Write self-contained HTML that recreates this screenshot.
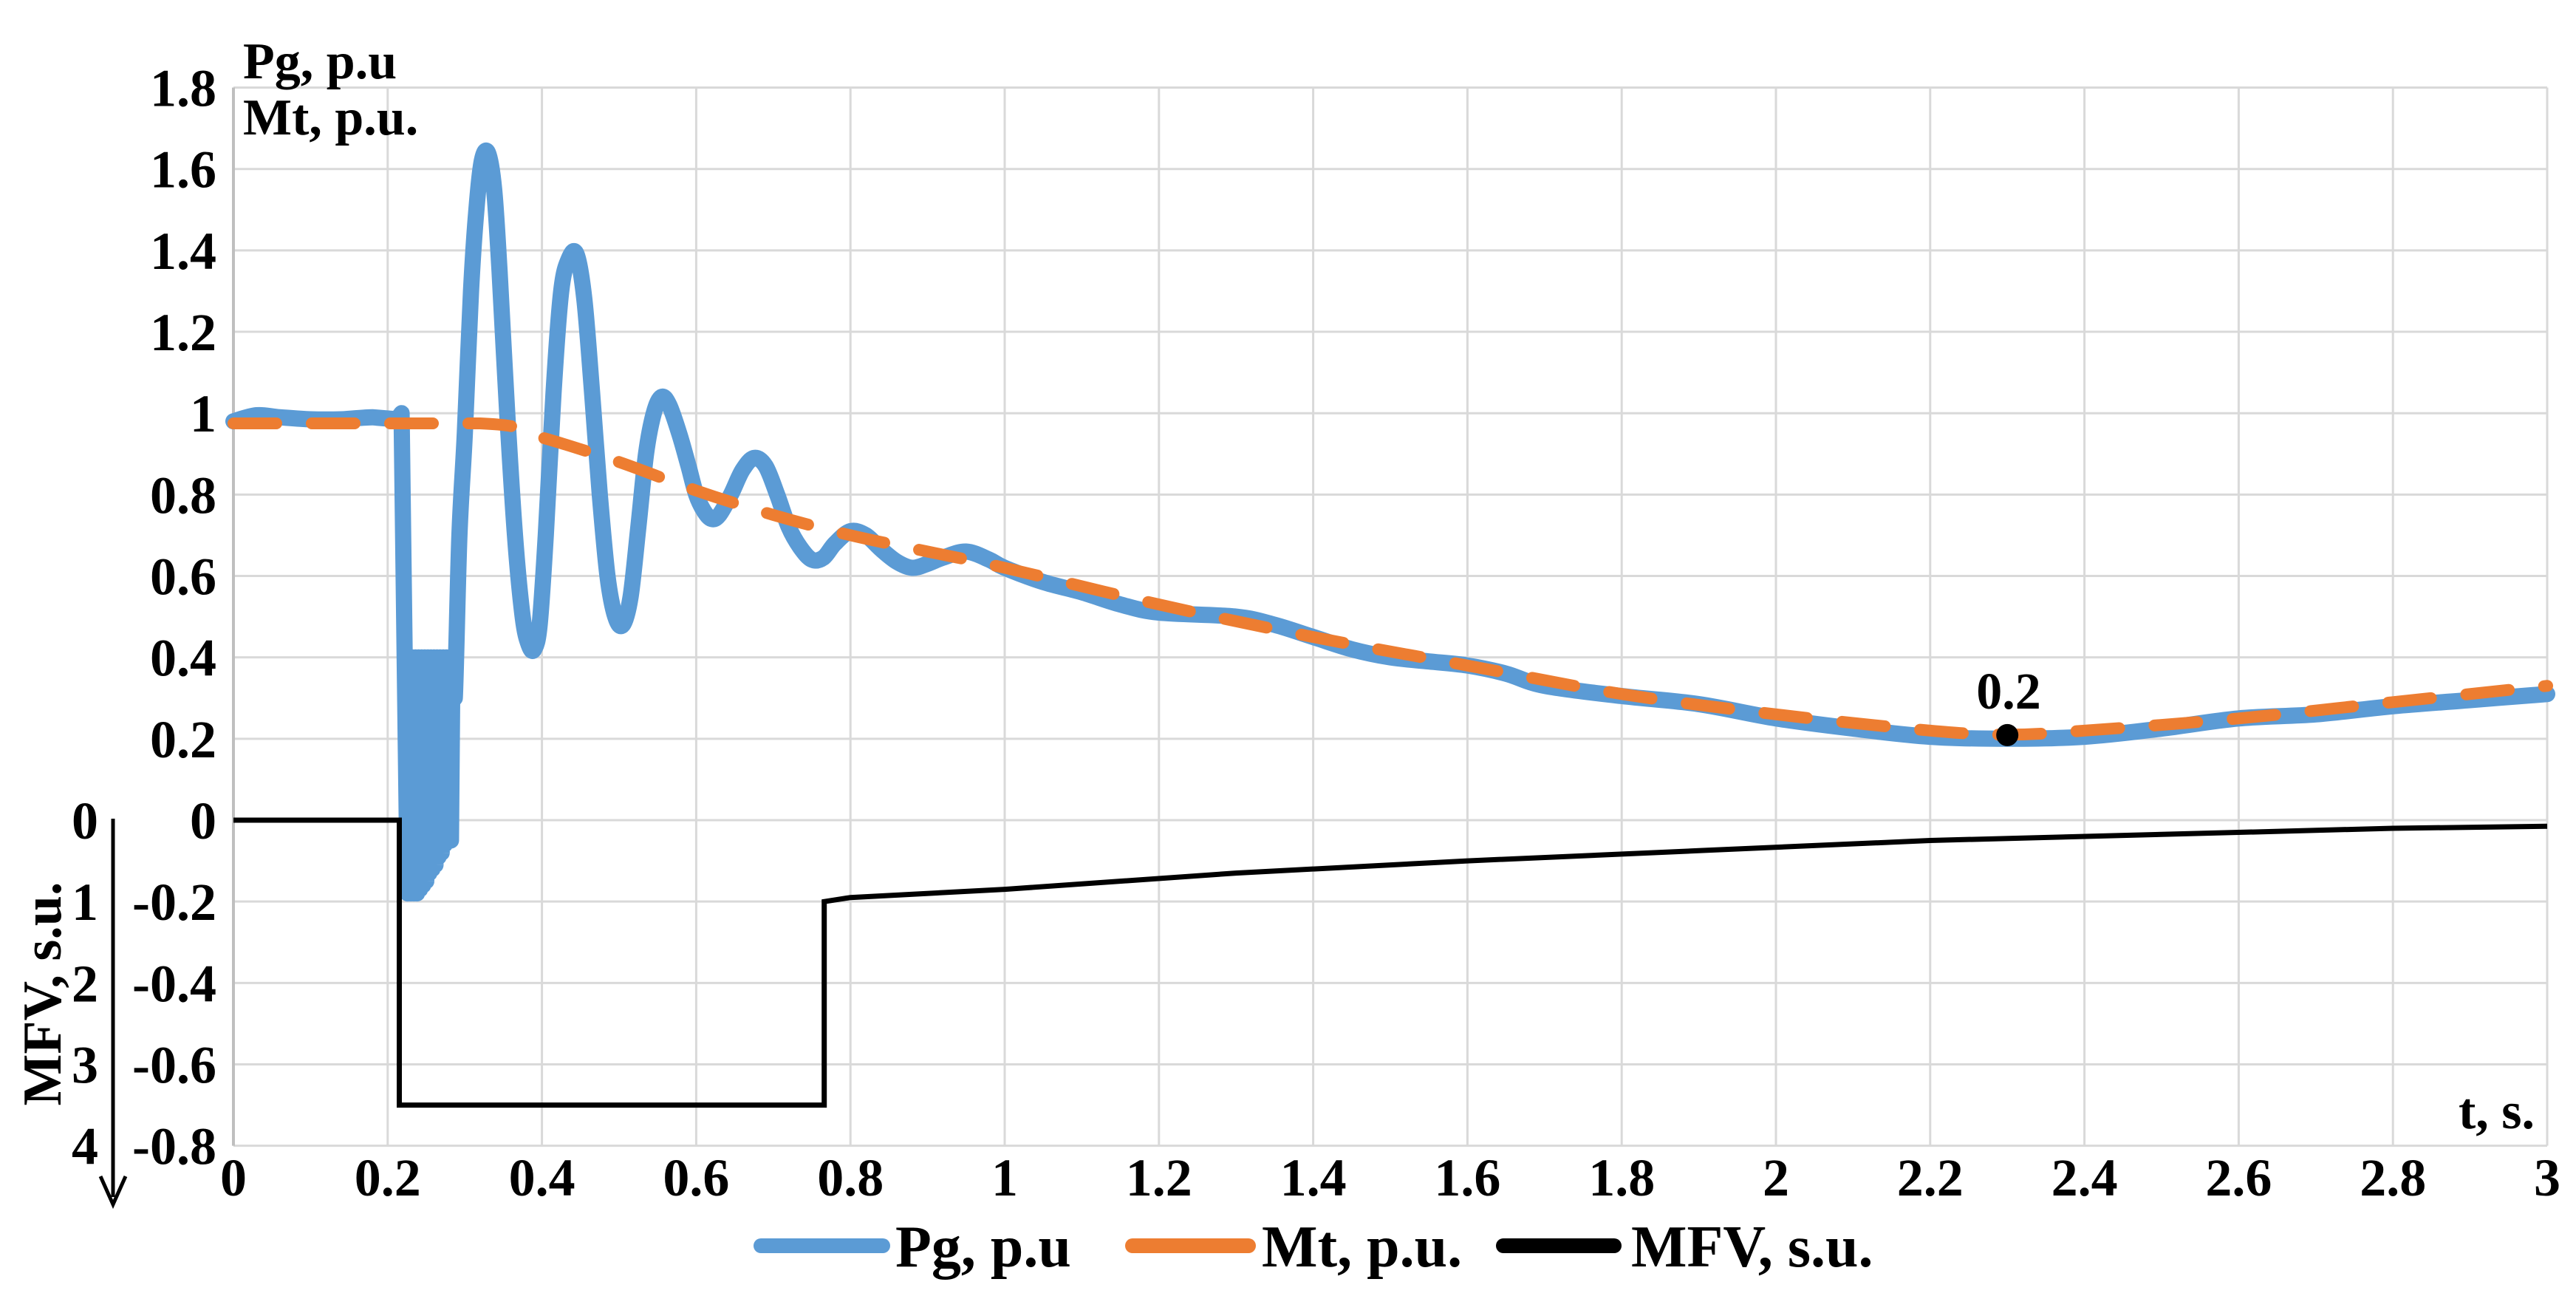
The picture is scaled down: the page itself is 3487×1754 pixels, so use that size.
<!DOCTYPE html>
<html><head><meta charset="utf-8"><style>
html,body{margin:0;padding:0;background:#fff}
svg{display:block}
text{font-family:"Liberation Serif",serif;font-weight:bold;fill:#000}
</style></head><body>
<svg id="chart" width="3487" height="1754" viewBox="0 0 3487 1754">
<g id="grid"></g>
<g id="series"></g>
<g id="labels"></g>
<text x="329" y="106" font-size="70">Pg, p.u</text>
<text x="329" y="182" font-size="70">Mt, p.u.</text>
<text x="3431" y="1527" font-size="70" text-anchor="end">t, s.</text>
<text x="2719" y="959" font-size="70" text-anchor="middle">0.2</text>
<text transform="translate(82,1345) rotate(-90)" font-size="74" text-anchor="middle">MFV, s.u.</text>
<g>
<line x1="153" y1="1108" x2="153" y2="1620" stroke="#000" stroke-width="5"/>
<path d="M136 1592 L153 1630 L170 1592" fill="none" stroke="#000" stroke-width="5"/>
</g>
<g>
<g><line x1="1030" y1="1686" x2="1195" y2="1686" stroke="#5b9bd5" stroke-width="20" stroke-linecap="round"/><text x="1212" y="1714" font-size="80">Pg, p.u</text></g>
<g><line x1="1533" y1="1686" x2="1690" y2="1686" stroke="#ed7d31" stroke-width="20" stroke-linecap="round"/><text x="1708" y="1714" font-size="80">Mt, p.u.</text></g>
<g><line x1="2035" y1="1686" x2="2185" y2="1686" stroke="#000" stroke-width="20" stroke-linecap="round"/><text x="2208" y="1714" font-size="80">MFV, s.u.</text></g>
</g>
</svg>
<script>
const xTicks=[0,0.2,0.4,0.6,0.8,1,1.2,1.4,1.6,1.8,2,2.2,2.4,2.6,2.8,3];
const xTickLabels=["0","0.2","0.4","0.6","0.8","1","1.2","1.4","1.6","1.8","2","2.2","2.4","2.6","2.8","3"];
const yTicks=[1.8,1.6,1.4,1.2,1,0.8,0.6,0.4,0.2,0,-0.2,-0.4,-0.6,-0.8];
const yTickLabels=["1.8","1.6","1.4","1.2","1","0.8","0.6","0.4","0.2","0","-0.2","-0.4","-0.6","-0.8"];
const mfvTicks=[0,-0.2,-0.4,-0.6,-0.8];
const mfvTickLabels=["0","1","2","3","4"];
const pgT=[0,0.03,0.06,0.1,0.14,0.18,0.212,0.218,0.222,0.226,0.228,0.230,0.232,0.234,0.236,0.238,0.240,0.242,0.244,0.246,0.248,0.250,0.252,0.254,0.256,0.258,0.260,0.262,0.264,0.266,0.268,0.270,0.272,0.274,0.276,0.278,0.280,0.282,0.284,0.287,0.293,0.30,0.308,0.315,0.322,0.33,0.338,0.345,0.355,0.365,0.375,0.383,0.39,0.397,0.405,0.415,0.425,0.435,0.445,0.455,0.465,0.475,0.485,0.495,0.505,0.515,0.525,0.535,0.545,0.555,0.565,0.578,0.59,0.60,0.61,0.62,0.63,0.645,0.66,0.675,0.69,0.705,0.72,0.735,0.75,0.765,0.78,0.80,0.82,0.84,0.86,0.88,0.90,0.92,0.95,0.98,1.0,1.05,1.1,1.15,1.2,1.3,1.35,1.4,1.45,1.5,1.55,1.6,1.65,1.7,1.8,1.9,2.0,2.1,2.2,2.3,2.4,2.5,2.6,2.7,2.8,2.9,3.0];
const pgV=[0.98,0.995,0.99,0.985,0.985,0.99,0.985,1.0,0.4,-0.18,0.4,-0.18,0.4,-0.18,0.4,-0.18,0.4,-0.17,0.4,-0.16,0.4,-0.15,0.4,-0.13,0.4,-0.12,0.4,-0.11,0.4,-0.09,0.4,-0.08,0.4,-0.06,0.4,-0.05,0.4,-0.05,0.4,0.3,0.7,0.95,1.3,1.5,1.62,1.64,1.55,1.35,1.0,0.7,0.5,0.43,0.42,0.48,0.7,1.05,1.3,1.38,1.39,1.28,1.05,0.8,0.6,0.5,0.48,0.55,0.72,0.9,1.0,1.04,1.02,0.95,0.87,0.8,0.76,0.74,0.75,0.8,0.86,0.89,0.87,0.8,0.72,0.67,0.64,0.645,0.68,0.71,0.7,0.665,0.635,0.62,0.63,0.645,0.66,0.64,0.62,0.585,0.56,0.53,0.51,0.5,0.48,0.45,0.42,0.4,0.39,0.38,0.36,0.33,0.305,0.285,0.25,0.225,0.205,0.2,0.205,0.225,0.25,0.26,0.28,0.295,0.31];
const mtT=[0,0.32,0.4,0.5,0.6,0.7,0.8,0.9,1.0,1.2,1.4,1.6,1.8,2.0,2.2,2.3,2.4,2.6,2.8,3.0];
const mtV=[0.975,0.975,0.94,0.88,0.81,0.75,0.7,0.66,0.62,0.53,0.45,0.38,0.31,0.26,0.22,0.21,0.22,0.25,0.29,0.33];
const mfvT=[0,0.215,0.215,0.766,0.766,0.8,1.0,1.3,1.6,1.9,2.2,2.5,2.8,3.0];
const mfvV=[0,0,-0.7,-0.7,-0.2,-0.19,-0.17,-0.13,-0.1,-0.075,-0.05,-0.035,-0.02,-0.015];
const markerT=[2.3], markerV=[0.209];

const X=t=>316+t*1044;
const Y=v=>1110-v*550.8;
const NS="http://www.w3.org/2000/svg";
const grid=document.getElementById('grid'), series=document.getElementById('series'), labels=document.getElementById('labels');
function mk(tag,attrs,parent){const e=document.createElementNS(NS,tag);for(const k in attrs)e.setAttribute(k,attrs[k]);parent.appendChild(e);return e;}

xTicks.forEach((t,i)=>{
  const l=mk('line',{x1:X(t),x2:X(t),y1:Y(1.8),y2:Y(-0.8),stroke:'#d9d9d9','stroke-width':3},grid);
  
  
  const tx=mk('text',{x:X(t),y:1618,'font-size':72,'text-anchor':'middle'},labels);
  tx.textContent=xTickLabels[i];
  
  
});
yTicks.forEach((v,i)=>{
  const l=mk('line',{x1:X(0),x2:X(3),y1:Y(v),y2:Y(v),stroke:'#d9d9d9','stroke-width':3},grid);
  
  
  const tx=mk('text',{x:293,y:Y(v)+25,'font-size':72,'text-anchor':'end'},labels);
  tx.textContent=yTickLabels[i];
  
  
});
mfvTicks.forEach((v,i)=>{
  const tx=mk('text',{x:115,y:Y(v)+25,'font-size':72,'text-anchor':'middle'},labels);
  tx.textContent=mfvTickLabels[i];
  
  
});
const ax=mk('line',{x1:X(0),x2:X(0),y1:Y(1.8),y2:Y(-0.8),stroke:'#bfbfbf','stroke-width':4},grid);



function pts(T,V){return T.map((t,i)=>X(t).toFixed(1)+','+Y(V[i]).toFixed(1)).join(' ');}
function smooth(T,V,linFrom,linTo){
  const P=T.map((t,i)=>[X(t),Y(V[i])]);
  let d='M'+P[0][0].toFixed(1)+' '+P[0][1].toFixed(1);
  for(let i=0;i<P.length-1;i++){
    const p0=P[Math.max(0,i-1)],p1=P[i],p2=P[i+1],p3=P[Math.min(P.length-1,i+2)];
    if(i>=linFrom&&i<linTo){d+=' L'+p2[0].toFixed(1)+' '+p2[1].toFixed(1);continue;}
    const c1=[p1[0]+(p2[0]-p0[0])/6,p1[1]+(p2[1]-p0[1])/6];
    const c2=[p2[0]-(p3[0]-p1[0])/6,p2[1]-(p3[1]-p1[1])/6];
    d+=' C'+c1[0].toFixed(1)+' '+c1[1].toFixed(1)+' '+c2[0].toFixed(1)+' '+c2[1].toFixed(1)+' '+p2[0].toFixed(1)+' '+p2[1].toFixed(1);
  }
  return d;
}
const pg=mk('path',{d:smooth(pgT,pgV,5,39),fill:'none',stroke:'#5b9bd5','stroke-width':22,'stroke-linejoin':'round','stroke-linecap':'round'},series);


const mt=mk('path',{d:smooth(mtT,mtV,0,1),fill:'none',stroke:'#ed7d31','stroke-width':16,'stroke-dasharray':'58 48','stroke-linecap':'round','stroke-linejoin':'round'},series);


const mfv=mk('polyline',{points:pts(mfvT,mfvV),fill:'none',stroke:'#000','stroke-width':7},series);


markerT.forEach((t,i)=>{
  const c=mk('circle',{cx:X(t),cy:Y(markerV[i]),r:15,fill:'#000'},series);
  
  
});
</script>
</body></html>
